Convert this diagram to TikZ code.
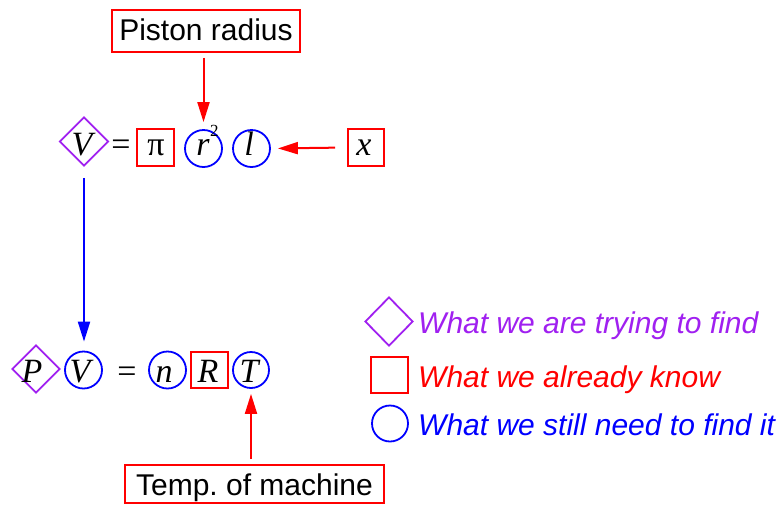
\documentclass[tikz,border=0pt]{standalone}
\usepackage{fontspec}
\setmainfont{Liberation Sans}
\newfontfamily\tms{Liberation Serif}
\usetikzlibrary{shapes.geometric,arrows.meta}
\definecolor{purp}{RGB}{160,32,240}
\frenchspacing
\begin{document}
\begin{tikzpicture}[x=1pt,y=-1pt,
  dia/.style={draw=purp,diamond,minimum width=49pt,minimum height=49pt,inner sep=0pt,line width=1.8pt},
  sq/.style={draw=red,rectangle,minimum width=37pt,minimum height=37pt,inner sep=0pt,line width=1.8pt},
  circ/.style={draw=blue,circle,minimum size=37pt,inner sep=0pt,line width=1.8pt},
  sym/.style={font=\tms\itshape\fontsize{34}{40}\selectfont,anchor=base,inner sep=0pt},
  eqs/.style={font=\tms\fontsize{34}{40}\selectfont,anchor=base,inner sep=0pt},
  lbox/.style={draw=red,line width=1.8pt,font=\fontsize{30}{36}\selectfont,inner sep=0pt},
  leg/.style={font=\itshape\fontsize{30}{36}\selectfont,anchor=base west,inner sep=0pt},
  arr/.style={line width=2pt,-{Triangle[length=20pt,width=12pt]}}
]
\useasboundingbox (0,0) rectangle (778,504);
% top row
\node[dia] (dV) at (84,141.5) {};
\node[sym] (tV) at (82,155) {V};
\node[eqs] (eq1) at (121,155) {=};
\node[sq] (bpi) at (155.5,147.5) {};
\node[eqs] (tpi) at (156,155) {π};
\node[circ] (cr) at (203.5,148.5) {};
\node[sym] (tr) at (203,155) {r};
\node[font=\tms\fontsize{17}{20}\selectfont,anchor=base west,inner sep=0pt] (t2) at (210,136) {2};
\node[circ] (cl) at (251.5,148.5) {};
\node[sym] (tl) at (249,155) {l};
\node[sq,minimum width=36pt] (bx) at (366,147.5) {};
\node[sym] (tx) at (364,155) {x};
\node[lbox,minimum width=188pt,minimum height=42pt,text height=22pt,text depth=4pt] (piston) at (206,31) {Piston radius};
% bottom row
\node[dia,minimum width=48pt,minimum height=48pt] (dP) at (36,369) {};
\node[sym] (tP) at (32,382) {P};
\node[circ] (cV) at (83.5,370) {};
\node[sym] (tV2) at (80,382) {V};
\node[eqs] (eq2) at (127,382) {=};
\node[circ] (cn) at (167.5,370) {};
\node[sym] (tn) at (164,382) {n};
\node[sq,minimum height=36pt] (bR) at (209.5,370) {};
\node[sym] (tR) at (208,382) {R};
\node[circ,minimum size=36pt] (cT) at (251,370) {};
\node[sym] (tT) at (249,382) {T};
\node[lbox,minimum width=259pt,minimum height=38pt,text height=22pt,text depth=0pt] (temp) at (254.5,484) {Temp. of machine};
% legend
\node[dia,minimum width=48pt] (ldia) at (389,321.5) {};
\node[leg,text=purp] (lt1) at (418,333) {What we are trying to find};
\node[sq,minimum height=36pt] (lsq) at (389.5,375) {};
\node[leg,text=red] (lt2) at (418,387) {What we already know};
\node[circ,minimum size=36pt] (lcirc) at (390,423.5) {};
\node[leg,text=blue] (lt3) at (418,435) {What we still need to find it};
% arrows
\draw[arr,red,shorten <=5pt,shorten >=7pt] (piston.south -| cr.north) -- (cr.north);
\draw[arr,red,shorten <=12pt,shorten >=7pt] (bx.west) -- (cl.east);
\draw[arr,blue,shorten <=11pt,shorten >=9pt] (dV.south) -- (dV.south |- cV.north);
\draw[arr,red,shorten <=5pt,shorten >=5pt] (temp.north -| cT.south) -- (cT.south);
\end{tikzpicture}
\end{document}
